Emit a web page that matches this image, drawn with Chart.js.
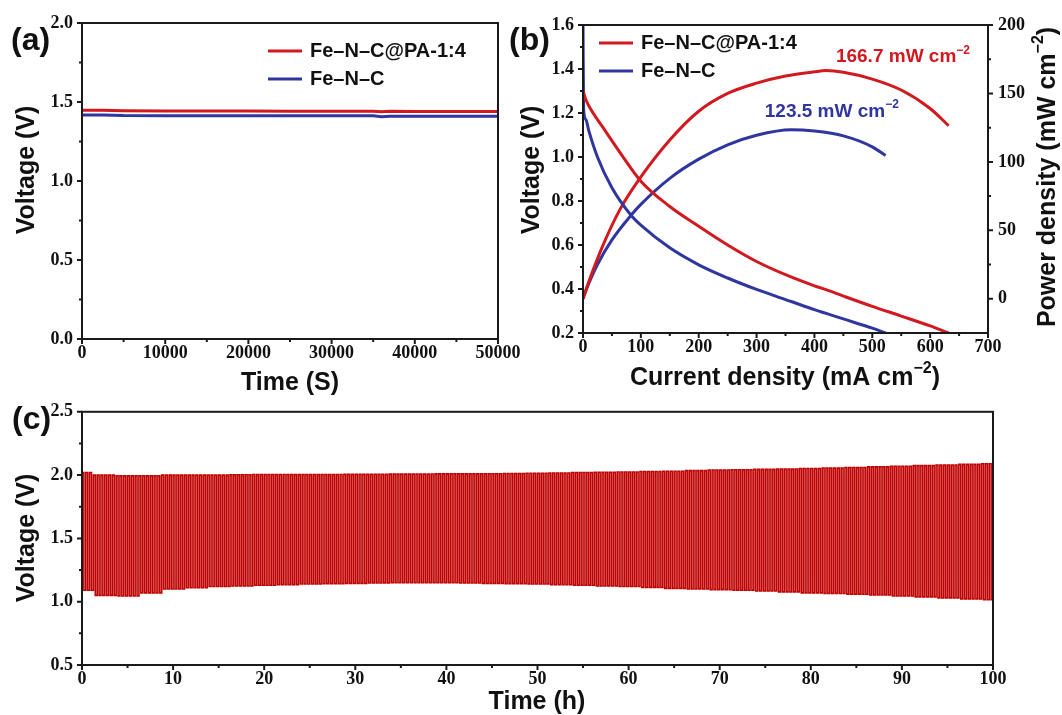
<!DOCTYPE html>
<html>
<head>
<meta charset="utf-8">
<title>Fe-N-C@PA battery performance</title>
<script src="https://cdn.jsdelivr.net/npm/chart.js@4.4.1/dist/chart.umd.min.js"></script>
<style>
	html, body { margin: 0; padding: 0; background: #fff; }
	#figure { position: relative; width: 1062px; height: 715px; overflow: hidden; background: #fff; }
	#figure canvas { position: absolute; }
</style>
</head>
<body>
<div id="figure">
	<canvas id="chart-a" width="530" height="400" style="left:0;top:0"></canvas>
	<canvas id="chart-b" width="562" height="400" style="left:500px;top:0"></canvas>
	<canvas id="chart-c" width="1062" height="323" style="left:0;top:392px"></canvas>
</div>
<script>
(function () {
	'use strict';

	/* ---------------- Data ---------------- */

	var SERIES_NAMES = ['Fe\u2013N\u2013C@PA-1:4', 'Fe\u2013N\u2013C'];

	// (a) open-circuit voltage vs time (s)
	var timeA    = [0, 2500, 5000, 10000, 15000, 20000, 25000, 30000, 35000, 36000, 37000, 40000, 45000, 50000];
	var voltA_PA = [1.447, 1.447, 1.444, 1.443, 1.443, 1.443, 1.442, 1.442, 1.442, 1.438, 1.441, 1.440, 1.440, 1.440];
	var voltA_FN = [1.418, 1.418, 1.414, 1.413, 1.413, 1.413, 1.413, 1.413, 1.413, 1.407, 1.410, 1.410, 1.410, 1.410];

	// (b) polarization + power density vs current density (mA cm-2)
	var currPA  = [0, 5, 15, 33, 64, 100, 150, 200, 250, 300, 350, 400, 420, 450, 500, 550, 600, 632];
	var voltPA  = [1.30, 1.26, 1.21, 1.14, 1.02, 0.89, 0.775, 0.685, 0.60, 0.525, 0.465, 0.4145, 0.397, 0.368, 0.321, 0.277, 0.232, 0.20];
	var powerPA = [0, 6.3, 18.2, 37.6, 65.3, 89, 116, 137, 150, 157.5, 162.7, 165.8, 166.7, 165.5, 160.5, 152.5, 139, 126.4];

	var currFN  = [0, 1, 5, 10, 25, 50, 83, 100, 150, 200, 250, 300, 360, 400, 450, 500, 523];
	var voltFN  = [1.60, 1.22, 1.17, 1.12, 1.00, 0.86, 0.735, 0.69, 0.587, 0.51, 0.45, 0.398, 0.343, 0.306, 0.264, 0.222, 0.20];
	var powerFN = [0, 1.2, 5.9, 11.2, 25, 43, 61, 69, 88, 102, 112.5, 119.5, 123.5, 122.5, 119, 111, 104.6];

	var PEAK_LABELS = ['166.7 mW cm', '123.5 mW cm'];

	// (c) charge/discharge cycling: envelope voltages read every 2.5 h
	var envTimeC   = [0, 2.5, 5, 7.5, 10, 12.5, 15, 17.5, 20, 22.5, 25, 27.5, 30, 32.5, 35, 37.5, 40, 42.5, 45, 47.5,
	                  50, 52.5, 55, 57.5, 60, 62.5, 65, 67.5, 70, 72.5, 75, 77.5, 80, 82.5, 85, 87.5, 90, 92.5, 95, 97.5, 100];
	var chargeV    = [2.02, 2.0, 1.995, 1.995, 2.0, 2.0, 2.0, 2.003, 2.005, 2.005, 2.005, 2.005, 2.006, 2.007, 2.008, 2.009, 2.01, 2.01, 2.011, 2.013,
	                  2.015, 2.017, 2.02, 2.022, 2.025, 2.028, 2.031, 2.035, 2.04, 2.042, 2.045, 2.048, 2.052, 2.056, 2.06, 2.065, 2.07, 2.075, 2.08, 2.085, 2.09];
	var dischargeV = [1.09, 1.05, 1.045, 1.07, 1.10, 1.11, 1.12, 1.125, 1.13, 1.135, 1.14, 1.143, 1.145, 1.148, 1.15, 1.15, 1.15, 1.148, 1.145, 1.143,
	                  1.14, 1.135, 1.13, 1.125, 1.12, 1.113, 1.105, 1.10, 1.095, 1.09, 1.085, 1.078, 1.07, 1.065, 1.06, 1.053, 1.045, 1.038, 1.03, 1.022, 1.015];
	var CYCLE_COUNT = 240;

	/* ---------------- Styling ---------------- */

	var RED     = '#d1191f';
	var BLUE    = '#2f369f';
	var DARKRED = '#c00000';
	var AXIS    = '#1a1a1a';
	var SANS    = '"Liberation Sans", Arial, Helvetica, sans-serif';
	var SERIF   = '"Liberation Serif", "Times New Roman", serif';

	Chart.defaults.animation = false;
	Chart.defaults.events = [];
	Chart.defaults.plugins.legend.display = false;
	Chart.defaults.plugins.tooltip.enabled = false;
	Chart.defaults.color = '#111';

	var TICK_FONT = { family: SERIF, size: 18, weight: 'bold' };

	function pairs(xs, ys) {
		return xs.map(function (x, i) { return { x: x, y: ys[i] }; });
	}

	function fixSize(prop, size) {
		return function (scale) { scale[prop] = size; };
	}

	function baseAxis(extra) {
		var axis = {
			type: 'linear',
			grid: { display: false, drawTicks: false },
			border: { display: false },
			ticks: { font: TICK_FONT, color: '#111', padding: 9 }
		};
		Object.keys(extra).forEach(function (k) {
			if (k === 'ticks') {
				Object.keys(extra.ticks).forEach(function (t) { axis.ticks[t] = extra.ticks[t]; });
			} else {
				axis[k] = extra[k];
			}
		});
		return axis;
	}

	function fmt1(v) { return v.toFixed(1); }
	function fmt0(v) { return String(Math.round(v)); }

	/* ---------------- Drawing helpers ---------------- */

	// parts: [text, isSuperscript]
	function drawRich(ctx, parts, x, y, size, color, rot) {
		ctx.save();
		ctx.translate(x, y);
		if (rot) ctx.rotate(rot);
		ctx.fillStyle = color;
		ctx.textBaseline = 'middle';
		ctx.textAlign = 'left';
		var widths = parts.map(function (p) {
			ctx.font = 'bold ' + (p[1] ? Math.round(size * 0.62) : size) + 'px ' + SANS;
			return ctx.measureText(p[0]).width;
		});
		var total = widths.reduce(function (s, w) { return s + w; }, 0);
		var cx = -total / 2;
		parts.forEach(function (p, i) {
			ctx.font = 'bold ' + (p[1] ? Math.round(size * 0.62) : size) + 'px ' + SANS;
			ctx.fillText(p[0], cx, p[1] ? -size * 0.36 : 0);
			cx += widths[i];
		});
		ctx.restore();
	}

	function drawTicks(ctx, scale, side) {
		var values = scale.ticks.map(function (t) { return t.value; });
		var minors = [];
		for (var i = 0; i < values.length - 1; i++) {
			minors.push((values[i] + values[i + 1]) / 2);
		}
		var a = scale.chart.chartArea;
		ctx.beginPath();
		function mark(v, len) {
			var p = scale.getPixelForValue(v);
			if (side === 'bottom') { ctx.moveTo(p, a.bottom); ctx.lineTo(p, a.bottom + len); }
			if (side === 'left')   { ctx.moveTo(a.left, p); ctx.lineTo(a.left - len, p); }
			if (side === 'right')  { ctx.moveTo(a.right, p); ctx.lineTo(a.right + len, p); }
		}
		values.forEach(function (v) { mark(v, 5); });
		minors.forEach(function (v) { mark(v, 3); });
		ctx.stroke();
	}

	function drawFrame(chart, sides) {
		var ctx = chart.ctx;
		var a = chart.chartArea;
		ctx.save();
		ctx.strokeStyle = AXIS;
		ctx.lineWidth = 2;
		ctx.strokeRect(a.left, a.top, a.right - a.left, a.bottom - a.top);
		sides.forEach(function (s) { drawTicks(ctx, chart.scales[s[0]], s[1]); });
		ctx.restore();
	}

	function drawLegend(ctx, x, y, gap, names, colors) {
		ctx.save();
		ctx.lineWidth = 3;
		ctx.font = 'bold 20px ' + SANS;
		ctx.textBaseline = 'middle';
		ctx.fillStyle = '#111';
		names.forEach(function (n, i) {
			var yy = y + i * gap;
			ctx.strokeStyle = colors[i];
			ctx.beginPath();
			ctx.moveTo(x, yy);
			ctx.lineTo(x + 34, yy);
			ctx.stroke();
			ctx.fillText(n, x + 42, yy);
		});
		ctx.restore();
	}

	function panelLabel(ctx, text, x, y) {
		ctx.save();
		ctx.font = 'bold 32px ' + SANS;
		ctx.fillStyle = '#111';
		ctx.textBaseline = 'middle';
		ctx.fillText(text, x, y);
		ctx.restore();
	}

	/* ---------------- (a) Voltage vs time ---------------- */

	new Chart(document.getElementById('chart-a'), {
		type: 'line',
		data: {
			datasets: [
				{ label: SERIES_NAMES[0], data: pairs(timeA, voltA_PA), borderColor: RED,  borderWidth: 3, pointRadius: 0 },
				{ label: SERIES_NAMES[1], data: pairs(timeA, voltA_FN), borderColor: BLUE, borderWidth: 3, pointRadius: 0 }
			]
		},
		options: {
			responsive: false,
			layout: { padding: { left: 0, top: 23, right: 32, bottom: 0 } },
			scales: {
				x: baseAxis({ min: 0, max: 50000, ticks: { stepSize: 10000, callback: fmt0, padding: 4 }, afterFit: fixSize('height', 61) }),
				y: baseAxis({ min: 0, max: 2.0, ticks: { stepSize: 0.5, callback: fmt1 }, afterFit: fixSize('width', 82) })
			}
		},
		plugins: [{
			id: 'decorA',
			afterDraw: function (chart) {
				var ctx = chart.ctx;
				drawFrame(chart, [['x', 'bottom'], ['y', 'left']]);
				drawRich(ctx, [['Voltage (V)', false]], 27, 170, 25, '#111', -Math.PI / 2);
				drawRich(ctx, [['Time (S)', false]], 290, 383, 25, '#111');
				drawLegend(ctx, 268, 51, 28, SERIES_NAMES, [RED, BLUE]);
				panelLabel(ctx, '(a)', 11, 41);
			}
		}]
	});

	/* ---------------- (b) Polarization and power density ---------------- */

	function curve(label, xs, ys, axisId, color) {
		return {
			label: label, data: pairs(xs, ys), yAxisID: axisId,
			borderColor: color, borderWidth: 3, pointRadius: 0,
			cubicInterpolationMode: 'monotone'
		};
	}

	new Chart(document.getElementById('chart-b'), {
		type: 'line',
		data: {
			datasets: [
				curve(SERIES_NAMES[0], currPA, voltPA,  'y',  RED),
				curve(SERIES_NAMES[1], currFN, voltFN,  'y',  BLUE),
				curve(SERIES_NAMES[0], currPA, powerPA, 'y2', RED),
				curve(SERIES_NAMES[1], currFN, powerFN, 'y2', BLUE)
			]
		},
		options: {
			responsive: false,
			layout: { padding: { left: 0, top: 25, right: 0, bottom: 0 } },
			scales: {
				x: baseAxis({ min: 0, max: 700, ticks: { stepSize: 100, callback: fmt0, padding: 4 }, afterFit: fixSize('height', 67) }),
				y: baseAxis({ position: 'left', min: 0.2, max: 1.6, ticks: { stepSize: 0.2, callback: fmt1 }, afterFit: fixSize('width', 83) }),
				y2: baseAxis({
					position: 'right', min: -25, max: 200,
					ticks: { stepSize: 50, callback: fmt0, padding: 10 },
					afterBuildTicks: function (scale) {
						scale.ticks = [0, 50, 100, 150, 200].map(function (v) { return { value: v }; });
					},
					afterFit: fixSize('width', 74)
				})
			}
		},
		plugins: [{
			id: 'decorB',
			afterDraw: function (chart) {
				var ctx = chart.ctx;
				var sx = chart.scales.x, sp = chart.scales.y2;
				drawFrame(chart, [['x', 'bottom'], ['y', 'left'], ['y2', 'right']]);
				drawRich(ctx, [['Voltage (V)', false]], 32, 170, 25, '#111', -Math.PI / 2);
				drawRich(ctx, [['Current density (mA cm', false], ['\u22122', true], [')', false]], 285, 378, 25, '#111');
				drawRich(ctx, [['Power density (mW cm', false], ['\u22122', true], [')', false]], 548, 177, 25, '#111', -Math.PI / 2);
				drawRich(ctx, [[PEAK_LABELS[0], false], ['\u22122', true]], sx.getPixelForValue(553), sp.getPixelForValue(176.6), 19, RED);
				drawRich(ctx, [[PEAK_LABELS[1], false], ['\u22122', true]], sx.getPixelForValue(430), sp.getPixelForValue(136.5), 19, BLUE);
				drawLegend(ctx, 99, 43, 28, SERIES_NAMES, [RED, BLUE]);
				panelLabel(ctx, '(b)', 9, 41);
			}
		}]
	});

	/* ---------------- (c) Charge/discharge cycling ---------------- */

	var cyclePeriod = envTimeC[envTimeC.length - 1] / CYCLE_COUNT;
	var envStep = envTimeC[1] - envTimeC[0];
	var cyclingData = [];
	for (var k = 0; k < CYCLE_COUNT; k++) {
		var t0 = k * cyclePeriod;
		var idx = Math.round(t0 / envStep);
		cyclingData.push({ x: t0, y: chargeV[idx] });
		cyclingData.push({ x: t0 + cyclePeriod / 2, y: chargeV[idx] });
		cyclingData.push({ x: t0 + cyclePeriod / 2, y: dischargeV[idx] });
		cyclingData.push({ x: t0 + cyclePeriod, y: dischargeV[idx] });
	}

	new Chart(document.getElementById('chart-c'), {
		type: 'line',
		data: {
			datasets: [
				{ label: SERIES_NAMES[0], data: cyclingData, borderColor: DARKRED, borderWidth: 1.6, pointRadius: 0 }
			]
		},
		options: {
			responsive: false,
			layout: { padding: { left: 0, top: 12, right: 69, bottom: 0 } },
			scales: {
				x: baseAxis({ min: 0, max: 100, ticks: { stepSize: 10, callback: fmt0, padding: 4 }, afterFit: fixSize('height', 50) }),
				y: baseAxis({ min: 0.5, max: 2.5, ticks: { stepSize: 0.5, callback: fmt1 }, afterFit: fixSize('width', 82) })
			}
		},
		plugins: [{
			id: 'decorC',
			afterDraw: function (chart) {
				var ctx = chart.ctx;
				drawFrame(chart, [['x', 'bottom'], ['y', 'left']]);
				drawRich(ctx, [['Voltage (V)', false]], 27, 146, 25, '#111', -Math.PI / 2);
				drawRich(ctx, [['Time (h)', false]], 537, 310, 25, '#111');
				panelLabel(ctx, '(c)', 12, 28);
			}
		}]
	});
})();
</script>
</body>
</html>
